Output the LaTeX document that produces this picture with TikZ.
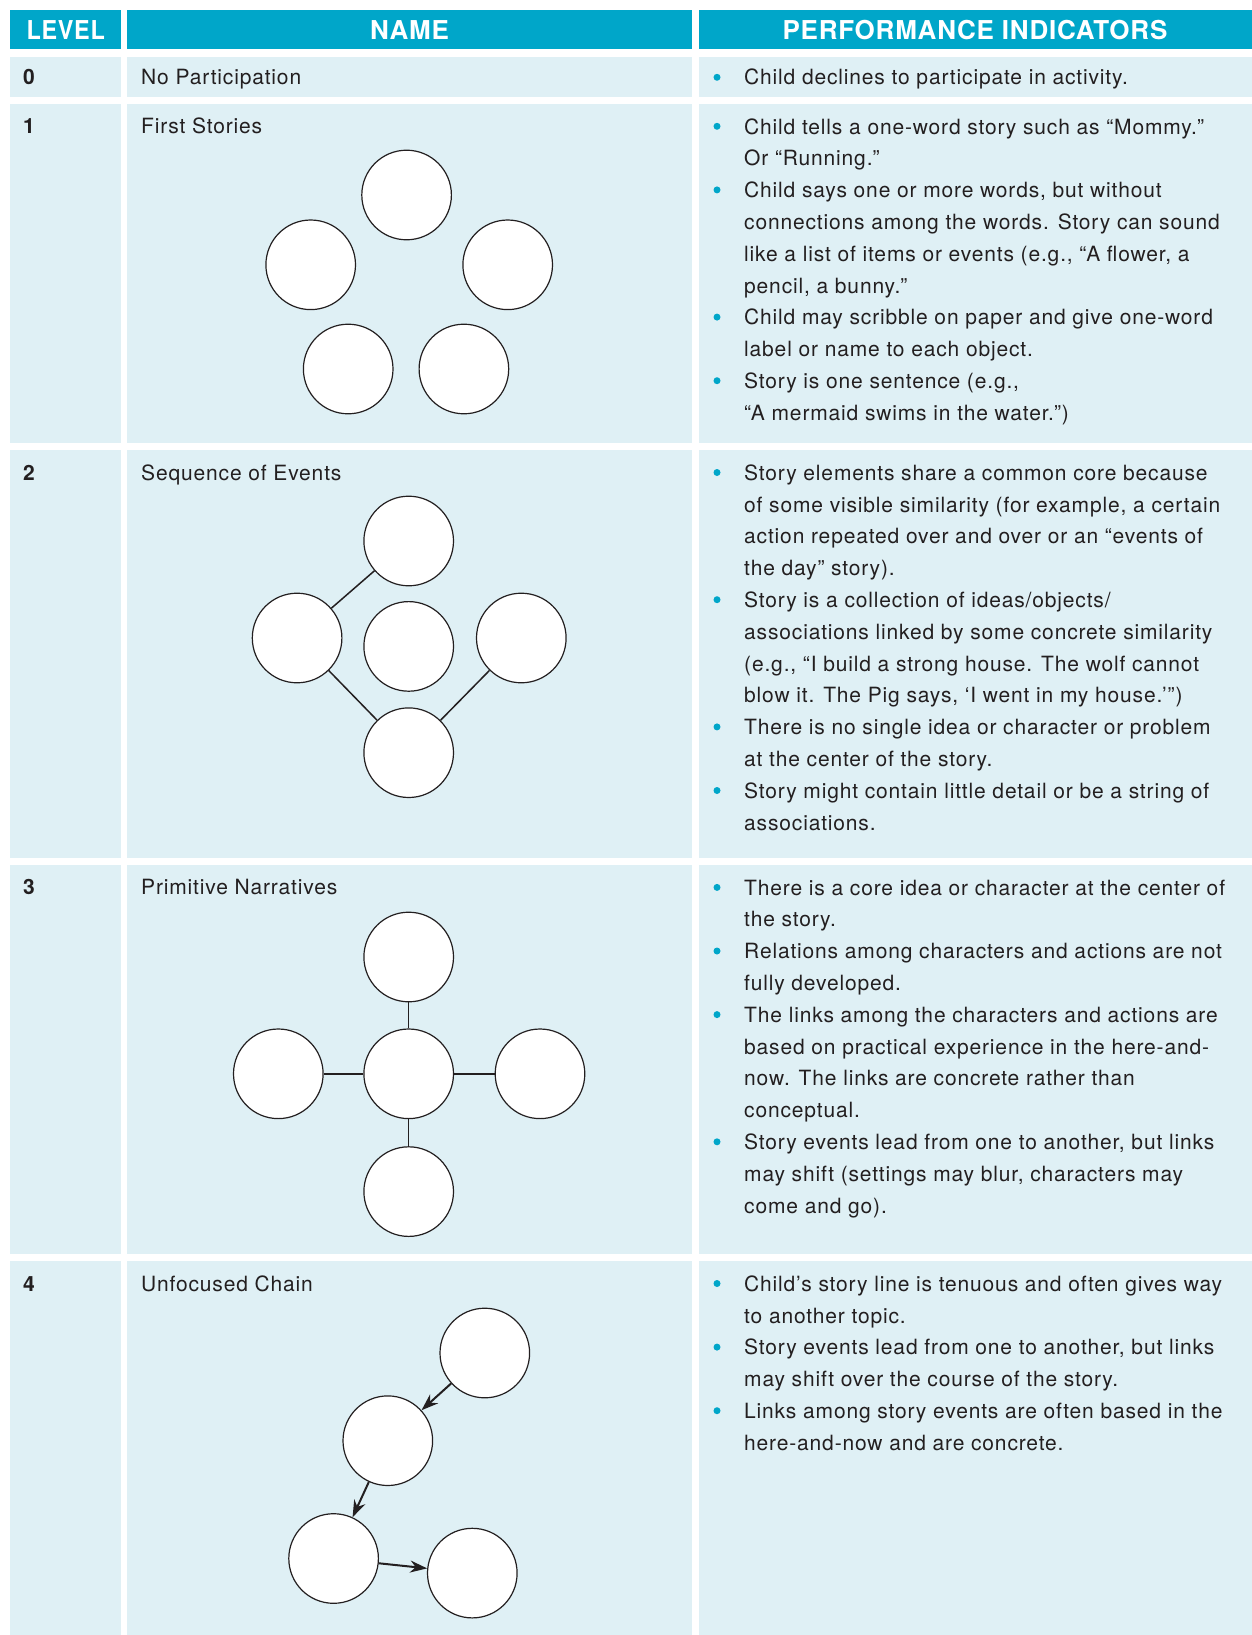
\documentclass[tikz,border=0pt]{standalone}
\usepackage{fontspec}
\setmainfont{TeX Gyre Heros}[LetterSpace=4]
\newfontfamily\hdrfont{TeX Gyre Heros}[LetterSpace=3]
\usetikzlibrary{arrows.meta}
\definecolor{hdr}{HTML}{00A6C9}
\definecolor{cell}{HTML}{DFF0F5}
\definecolor{ink}{HTML}{231F20}
\newcommand\bul[3]{%
  \node[dot] (#1d) at (717,{#2-7.5}) {};
  \node[body,anchor=north west] (#1) at (744,{#2-22.26}) {\strut#3};
}
\begin{document}
\begin{tikzpicture}[x=1pt,y=-1pt,
  hdrtext/.style={text=white,font=\fontsize{26}{30}\selectfont\hdrfont\bfseries,inner sep=0pt},
  body/.style={text=ink,font=\fontsize{21}{31.8}\selectfont,inner sep=0pt,align=left},
  lab/.style={body,anchor=base west},
  num/.style={lab,font=\fontsize{21}{31.8}\selectfont\bfseries},
  dot/.style={circle,fill=hdr,minimum size=7pt,inner sep=0pt},
  bub/.style={circle,draw=ink,fill=white,line width=1.2pt,minimum size=89.6pt,inner sep=0pt},
  link/.style={draw=ink,line width=1.5pt},
  arr/.style={draw=ink,line width=2pt,-{Stealth[length=17pt,width=12pt]}}
]
\useasboundingbox[fill=white] (0,0) rectangle (1252,1635);
% header
\fill[hdr] (10.4,10.4) rectangle (121,49);
\fill[hdr] (127.2,10.4) rectangle (692,49);
\fill[hdr] (698.5,10.4) rectangle (1252,49);
% body cells
\foreach \ya/\yb in {57.3/97, 104.3/443, 450.4/858, 865.3/1254, 1261.4/1635}{
  \fill[cell] (10.4,\ya) rectangle (121,\yb);
  \fill[cell] (127.2,\ya) rectangle (692,\yb);
  \fill[cell] (698.5,\ya) rectangle (1252,\yb);
}
\node[hdrtext,xscale=0.9] (hlevel) at (65.7,29.7) {LEVEL};
\node[hdrtext] (hname) at (409.6,29.7) {NAME};
\node[hdrtext] (hperf) at (975,29.7) {PERFORMANCE INDICATORS};

% row 0
\node[num] (n0) at (23,84.8) {0};
\node[lab] (m0) at (141,84.8) {No Participation};
\bul{p0a}{84.8}{Child declines to participate in activity.}

% row 1
\node[num] (n1) at (23,133.8) {1};
\node[lab] (m1) at (141,133.8) {First Stories};
\bul{p1a}{133.8}{Child tells a one-word story such as “Mommy.”\\Or “Running.”}
\bul{p1b}{197.4}{Child says one or more words, but without\\connections among the words. Story can sound\\like a list of items or events (e.g., “A flower, a\\pencil, a bunny.”}
\bul{p1c}{324.6}{Child may scribble on paper and give one-word\\label or name to each object.}
\bul{p1d}{388.2}{Story is one sentence (e.g.,\\“A mermaid swims in the water.”)}
\node[bub] (a1) at (406.6,195) {};
\node[bub] (b1) at (310.7,264.8) {};
\node[bub] (c1) at (507.7,264.8) {};
\node[bub] (d1) at (348.2,369) {};
\node[bub] (e1) at (463.9,369) {};

% row 2
\node[num] (n2) at (23,480) {2};
\node[lab] (m2) at (141,480) {Sequence of Events};
\bul{p2a}{480}{Story elements share a common core because\\of some visible similarity (for example, a certain\\action repeated over and over or an “events of\\the day” story).}
\bul{p2b}{607.2}{Story is a collection of ideas/objects/\\associations linked by some concrete similarity\\(e.g., “I build a strong house. The wolf cannot\\blow it. The Pig says, ‘I went in my house.’”)}
\bul{p2c}{734.4}{There is no single idea or character or problem\\at the center of the story.}
\bul{p2d}{798}{Story might contain little detail or be a string of\\associations.}
\node[bub] (t2) at (408.7,541) {};
\node[bub] (l2) at (297.1,638) {};
\node[bub] (c2) at (408.7,646.4) {};
\node[bub] (r2) at (521.3,638) {};
\node[bub] (b2) at (408.7,752.7) {};
\draw[link] (t2) -- (l2);
\draw[link] (l2) -- (b2);
\draw[link] (b2) -- (r2);

% row 3
\node[num] (n3) at (23,894.9) {3};
\node[lab] (m3) at (141,894.9) {Primitive Narratives};
\bul{p3a}{894.9}{There is a core idea or character at the center of\\the story.}
\bul{p3b}{958.5}{Relations among characters and actions are not\\fully developed.}
\bul{p3c}{1022.1}{The links among the characters and actions are\\based on practical experience in the here-and-\\now. The links are concrete rather than\\conceptual.}
\bul{p3d}{1149.3}{Story events lead from one to another, but links\\may shift (settings may blur, characters may\\come and go).}
\node[bub] (t3) at (408.7,957) {};
\node[bub] (l3) at (278.3,1073.8) {};
\node[bub] (c3) at (408.7,1073.8) {};
\node[bub] (r3) at (540,1073.8) {};
\node[bub] (b3) at (408.7,1191.6) {};
\draw[link] (c3) -- (t3);
\draw[link] (c3) -- (l3);
\draw[link] (c3) -- (r3);
\draw[link] (c3) -- (b3);

% row 4
\node[num] (n4) at (23,1291) {4};
\node[lab] (m4) at (141,1291) {Unfocused Chain};
\bul{p4a}{1291}{Child’s story line is tenuous and often gives way\\to another topic.}
\bul{p4b}{1354.6}{Story events lead from one to another, but links\\may shift over the course of the story.}
\bul{p4c}{1418.2}{Links among story events are often based in the\\here-and-now and are concrete.}
\node[bub] (a4) at (484.8,1353) {};
\node[bub] (b4) at (387.8,1440.7) {};
\node[bub] (c4) at (333.6,1558.5) {};
\node[bub] (d4) at (472.3,1573.1) {};
\draw[arr] (a4) -- (b4);
\draw[arr] (b4) -- (c4);
\draw[arr] (c4) -- (d4);
\end{tikzpicture}
\end{document}
